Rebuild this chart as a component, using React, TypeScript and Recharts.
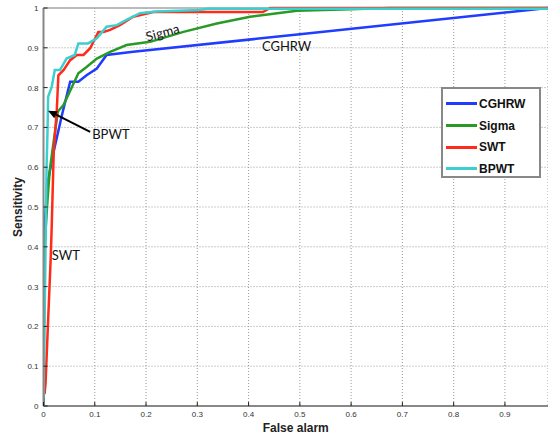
import { LineChart, Line, XAxis, YAxis, CartesianGrid, Legend, ReferenceDot, ReferenceLine, Label } from 'recharts';

const xTicks = [0, 0.1, 0.2, 0.3, 0.4, 0.5, 0.6, 0.7, 0.8, 0.9];
const xTickLabels = ['0', '0.1', '0.2', '0.3', '0.4', '0.5', '0.6', '0.7', '0.8', '0.9'];
const yTicks = [0, 0.1, 0.2, 0.3, 0.4, 0.5, 0.6, 0.7, 0.8, 0.9, 1];
const yTickLabels = ['0', '0.1', '0.2', '0.3', '0.4', '0.5', '0.6', '0.7', '0.8', '0.9', '1'];

const cghrwX = [0, 0.001, 0.004, 0.009, 0.02, 0.036, 0.052, 0.068, 0.084, 0.104, 0.123, 0.175, 0.5, 0.984];
const cghrwY = [0, 0.4, 0.49, 0.567, 0.64, 0.731, 0.815, 0.815, 0.831, 0.848, 0.882, 0.89, 0.934, 1.0];

const sigmaX = [0, 0.002, 0.008, 0.012, 0.022, 0.028, 0.039, 0.068, 0.084, 0.104, 0.13, 0.162, 0.208, 0.273, 0.338, 0.403, 0.494, 0.598, 0.676, 0.984];
const sigmaY = [0, 0.4, 0.52, 0.59, 0.685, 0.74, 0.756, 0.836, 0.852, 0.873, 0.89, 0.907, 0.915, 0.94, 0.961, 0.978, 0.993, 0.997, 1.0, 1.0];

const swtX = [0.002, 0.004, 0.009, 0.014, 0.016, 0.02, 0.026, 0.029, 0.039, 0.052, 0.065, 0.078, 0.091, 0.107, 0.117, 0.13, 0.149, 0.175, 0.214, 0.428, 0.442, 0.984];
const swtY = [0.03, 0.057, 0.215, 0.37, 0.45, 0.64, 0.745, 0.831, 0.844, 0.869, 0.882, 0.882, 0.899, 0.94, 0.94, 0.945, 0.957, 0.978, 0.99, 0.99, 1.0, 1.0];

const bpwtX = [0, 0.002, 0.004, 0.006, 0.008, 0.009, 0.016, 0.022, 0.032, 0.045, 0.061, 0.068, 0.087, 0.104, 0.123, 0.143, 0.162, 0.188, 0.221, 0.305, 0.32, 0.984];
const bpwtY = [0.02, 0.2, 0.4, 0.6, 0.7, 0.777, 0.802, 0.844, 0.844, 0.873, 0.882, 0.911, 0.911, 0.924, 0.953, 0.957, 0.97, 0.987, 0.991, 0.995, 0.998, 0.998];

const zip = (xs: number[], ys: number[]) => xs.map((x, i) => ({ x, y: ys[i] }));

const series = [
  { name: 'CGHRW', color: '#1f3cff', data: zip(cghrwX, cghrwY) },
  { name: 'Sigma', color: '#2a9a26', data: zip(sigmaX, sigmaY) },
  { name: 'SWT', color: '#ff2a1a', data: zip(swtX, swtY) },
  { name: 'BPWT', color: '#3ccfcf', data: zip(bpwtX, bpwtY) },
];

const tickFont = '"Liberation Sans", Arial, sans-serif';
const noteFont = 'Lato, "Open Sans", sans-serif';

function XTick({ x, y, payload }: any) {
  const i = xTicks.indexOf(payload.value);
  return (
    <g>
      <line x1={x} x2={x} y1={y} y2={y - 4} stroke="#222" strokeWidth={1} />
      <text x={x} y={y + 11} textAnchor="middle" fontSize={8} fill="#333" fontFamily={tickFont}>
        {xTickLabels[i]}
      </text>
    </g>
  );
}

function YTick({ x, y, payload }: any) {
  const i = yTicks.indexOf(payload.value);
  return (
    <g>
      <line x1={x} x2={x + 4} y1={y} y2={y} stroke="#222" strokeWidth={1} />
      <text x={x - 5} y={y + 3} textAnchor="end" fontSize={8} fill="#333" fontFamily={tickFont}>
        {yTickLabels[i]}
      </text>
    </g>
  );
}

function LegendBox() {
  return (
    <div
      style={{
        border: '2px solid #888',
        background: '#fff',
        width: 100,
        height: 91,
        boxSizing: 'border-box',
        padding: '4px 0 0 3px',
        fontFamily: tickFont,
      }}
    >
      {series.map((s) => (
        <div key={s.name} style={{ display: 'flex', alignItems: 'center', height: 21.7 }}>
          <div style={{ width: 31, height: 3, background: s.color, marginRight: 2 }} />
          <span style={{ fontSize: 12, fontWeight: 'bold', color: '#111' }}>{s.name}</span>
        </div>
      ))}
    </div>
  );
}

const note = (text: string, rotate = 0, anchor = 'start') => (p: any) => (
  <text
    x={p.cx}
    y={p.cy}
    fontSize={13}
    fontFamily={noteFont}
    fill="#111"
    textAnchor={anchor}
    dominantBaseline="middle"
    transform={rotate ? `rotate(${rotate} ${p.cx} ${p.cy})` : undefined}
  >
    {text}
  </text>
);

function Arrow(p: any) {
  const { x1, y1, x2, y2 } = p;
  const ang = Math.atan2(y2 - y1, x2 - x1);
  const len = 9;
  const w = 4;
  const bx = x2 - len * Math.cos(ang);
  const by = y2 - len * Math.sin(ang);
  const px = -Math.sin(ang) * w;
  const py = Math.cos(ang) * w;
  return (
    <g>
      <line x1={x1} y1={y1} x2={bx} y2={by} stroke="#000" strokeWidth={2} />
      <polygon points={`${x2},${y2} ${bx + px},${by + py} ${bx - px},${by - py}`} fill="#000" />
    </g>
  );
}

export default function App() {
  return (
    <div style={{ position: 'absolute', left: 0, top: 0, background: '#fff' }}>
      <LineChart width={548} height={438} margin={{ top: 8, right: 0, bottom: 0, left: 0 }}>
        <CartesianGrid stroke="#999" strokeDasharray="1 2" />
        <XAxis
          type="number"
          dataKey="x"
          domain={[0, 0.984]}
          ticks={xTicks}
          interval={0}
          height={32}
          tickSize={0}
          tickMargin={0}
          tickLine={false}
          tick={<XTick />}
          axisLine={{ stroke: '#888', strokeWidth: 2 }}
          allowDataOverflow
        >
          <Label
            content={({ viewBox }: any) => (
              <text
                x={viewBox.x + viewBox.width / 2}
                y={viewBox.y + 26}
                textAnchor="middle"
                fontSize={12}
                fontWeight="bold"
                fill="#222"
                fontFamily={tickFont}
              >
                False alarm
              </text>
            )}
          />
        </XAxis>
        <YAxis
          type="number"
          dataKey="y"
          domain={[0, 1]}
          ticks={yTicks}
          interval={0}
          width={43.5}
          tickSize={0}
          tickMargin={0}
          tickLine={false}
          tick={<YTick />}
          axisLine={{ stroke: '#888', strokeWidth: 2 }}
        >
          <Label
            content={({ viewBox }: any) => {
              const cx = 22;
              const cy = viewBox.y + viewBox.height / 2;
              return (
                <text
                  x={cx}
                  y={cy}
                  textAnchor="middle"
                  fontSize={12}
                  fontWeight="bold"
                  fill="#222"
                  fontFamily={tickFont}
                  transform={`rotate(-90 ${cx} ${cy})`}
                >
                  Sensitivity
                </text>
              );
            }}
          />
        </YAxis>
        <ReferenceLine y={1} stroke="#aaa" strokeWidth={1.5} />
        {series.map((s) => (
          <Line
            key={s.name}
            data={s.data}
            dataKey="y"
            name={s.name}
            type="linear"
            stroke={s.color}
            strokeWidth={2.5}
            dot={false}
            activeDot={false}
            isAnimationActive={false}
          />
        ))}
        <ReferenceDot x={0.233} y={0.935} r={0} shape={note('Sigma', -15, 'middle')} />
        <ReferenceDot x={0.426} y={0.9} r={0} shape={note('CGHRW')} />
        <ReferenceDot x={0.095} y={0.678} r={0} shape={note('BPWT')} />
        <ReferenceDot x={0.016} y={0.376} r={0} shape={note('SWT')} />
        <ReferenceLine
          segment={[
            { x: 0.091, y: 0.689 },
            { x: 0.0088, y: 0.742 },
          ]}
          shape={<Arrow />}
        />
        <Legend
          layout="horizontal"
          verticalAlign="middle"
          align="center"
          content={() => <LegendBox />}
          wrapperStyle={{ left: 441, top: 87, width: 100, height: 91 }}
        />
      </LineChart>
    </div>
  );
}
